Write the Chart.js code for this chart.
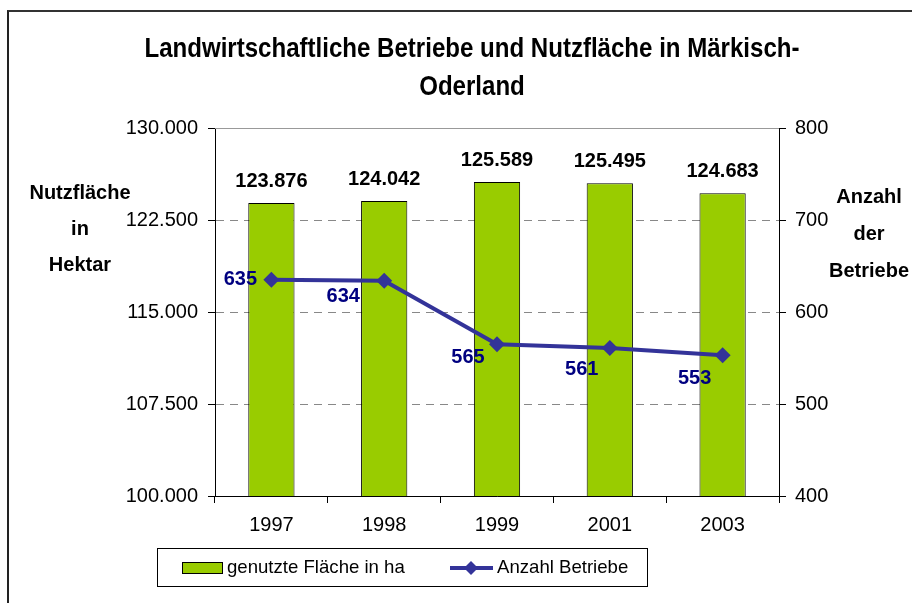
<!DOCTYPE html>
<html>
<head>
<meta charset="utf-8">
<title>Landwirtschaftliche Betriebe und Nutzfläche in Märkisch-Oderland</title>
<script src="https://cdn.jsdelivr.net/npm/chart.js@4.4.1/dist/chart.umd.min.js"></script>
<style>
  html, body { margin: 0; padding: 0; background: #fff; overflow: hidden; }
  #wrap { position: relative; width: 912px; height: 603px; }
  #frame { position: absolute; left: 7px; top: 10px; width: 1000px; height: 1000px;
           border-left: 2px solid #222; border-top: 2px solid #333; }
  #myChart { position: absolute; left: 0; top: 0; }
</style>
</head>
<body>
<div id="wrap">
  <div id="frame"></div>
  <canvas id="myChart" width="912" height="603"></canvas>
</div>
<script>
// data
var years = ['1997', '1998', '1999', '2001', '2003'];
var flaeche = [123876, 124042, 125589, 125495, 124683];
var betriebe = [635, 634, 565, 561, 553];
var leftTicks = [100000, 107500, 115000, 122500, 130000];
var rightTicks = [400, 500, 600, 700, 800];

var titleLines = ['Landwirtschaftliche Betriebe und Nutzfläche in Märkisch-', 'Oderland'];
var leftTitle = ['Nutzfläche', 'in', 'Hektar'];
var rightTitle = ['Anzahl', 'der', 'Betriebe'];

var FONT = '"Liberation Sans", Arial, sans-serif';
var GREEN = '#99CC00';
var BLUE = '#333399';
var NAVY = '#000080';

// where the number labels of the line sit relative to their point (dx, dy)
var lineLabelShift = [[-31, 0], [-41, 16], [-29, 13], [-28, 22], [-28, 23]];

function fmt(v) {
  return String(v).replace(/\B(?=(\d{3})+(?!\d))/g, '.');
}

var decor = {
  id: 'decor',
  afterDraw: function(chart) {
    var ctx = chart.ctx;
    var area = chart.chartArea;
    ctx.save();

    // top gridline is solid
    ctx.strokeStyle = '#999';
    ctx.lineWidth = 1;
    ctx.beginPath();
    ctx.moveTo(area.left, area.top + 0.5);
    ctx.lineTo(area.right, area.top + 0.5);
    ctx.stroke();

    // title - narrow bold, squeezed to the width of the original
    ctx.fillStyle = '#000';
    ctx.textAlign = 'center';
    ctx.textBaseline = 'middle';
    ctx.font = 'bold 28px ' + FONT;
    var sx = 655 / ctx.measureText(titleLines[0]).width;
    ctx.save();
    ctx.translate(472, 0);
    ctx.scale(sx, 1);
    ctx.fillText(titleLines[0], 0, 49);
    ctx.fillText(titleLines[1], 0, 87);
    ctx.restore();

    // axis titles
    ctx.font = 'bold 20px ' + FONT;
    leftTitle.forEach(function(t, i) { ctx.fillText(t, 80, 193 + i * 36); });
    rightTitle.forEach(function(t, i) { ctx.fillText(t, 869, 197 + i * 37); });

    // bar values
    var bars = chart.getDatasetMeta(0).data;
    bars.forEach(function(el, i) {
      ctx.fillText(fmt(flaeche[i]), el.x, el.y - 22);
    });

    // line values
    var pts = chart.getDatasetMeta(1).data;
    ctx.fillStyle = NAVY;
    pts.forEach(function(el, i) {
      ctx.fillText(String(betriebe[i]), el.x + lineLabelShift[i][0], el.y + lineLabelShift[i][1]);
    });

    // legend box
    ctx.strokeStyle = '#000';
    ctx.lineWidth = 1;
    ctx.strokeRect(157.5, 548.5, 490, 38);
    ctx.fillStyle = GREEN;
    ctx.fillRect(182, 562, 40, 11);
    ctx.strokeRect(182.5, 562.5, 40, 11);
    ctx.fillStyle = '#000';
    ctx.textAlign = 'left';
    ctx.font = '18.6px ' + FONT;
    ctx.fillText(chart.data.datasets[0].label, 227, 568);
    ctx.strokeStyle = BLUE;
    ctx.lineWidth = 4;
    ctx.beginPath();
    ctx.moveTo(450, 568);
    ctx.lineTo(493, 568);
    ctx.stroke();
    ctx.fillStyle = BLUE;
    ctx.beginPath();
    ctx.moveTo(471, 561);
    ctx.lineTo(478, 568);
    ctx.lineTo(471, 575);
    ctx.lineTo(464, 568);
    ctx.closePath();
    ctx.fill();
    ctx.fillStyle = '#000';
    ctx.fillText(chart.data.datasets[1].label, 497, 568);

    ctx.restore();
  }
};

var ctx = document.getElementById('myChart').getContext('2d');
var myChart = new Chart(ctx, {
  data: {
    labels: years,
    datasets: [{
      type: 'bar',
      label: 'genutzte Fläche in ha',
      data: flaeche,
      backgroundColor: GREEN,
      borderColor: '#000',
      borderWidth: 1,
      barPercentage: 0.41,
      categoryPercentage: 1,
      yAxisID: 'y',
      order: 2
    }, {
      type: 'line',
      label: 'Anzahl Betriebe',
      data: betriebe,
      borderColor: BLUE,
      borderWidth: 4,
      pointStyle: 'rectRot',
      pointRadius: 8,
      pointBackgroundColor: BLUE,
      pointBorderColor: BLUE,
      pointBorderWidth: 0,
      tension: 0,
      yAxisID: 'y1',
      order: 1
    }]
  },
  options: {
    responsive: false,
    animation: false,
    layout: { padding: { top: 128, left: 0, right: 0, bottom: 0 } },
    plugins: {
      legend: { display: false },
      title: { display: false },
      tooltip: { enabled: false }
    },
    scales: {
      x: {
        offset: true,
        grid: { offset: true, drawOnChartArea: false, drawTicks: true, tickLength: 7, tickColor: '#000' },
        border: { color: '#000', width: 1 },
        ticks: { color: '#000', font: { family: FONT, size: 20 }, padding: 10, maxRotation: 0 },
        afterFit: function(s) { s.height = 107; }
      },
      y: {
        position: 'left',
        min: leftTicks[0],
        max: leftTicks[leftTicks.length - 1],
        afterBuildTicks: function(s) { s.ticks = leftTicks.map(function(v) { return { value: v }; }); },
        grid: { color: '#888', drawTicks: true, tickLength: 7, tickColor: '#000' },
        border: { color: '#000', width: 1, dash: [8, 6] },
        ticks: { color: '#000', font: { family: FONT, size: 20 }, padding: 10, callback: function(v) { return fmt(v); } },
        afterFit: function(s) { s.width = 215; }
      },
      y1: {
        position: 'right',
        min: rightTicks[0],
        max: rightTicks[rightTicks.length - 1],
        afterBuildTicks: function(s) { s.ticks = rightTicks.map(function(v) { return { value: v }; }); },
        grid: { drawOnChartArea: false, drawTicks: true, tickLength: 7, tickColor: '#000' },
        border: { color: '#000', width: 1 },
        ticks: { color: '#000', font: { family: FONT, size: 20 }, padding: 9 },
        afterFit: function(s) { s.width = 133; }
      }
    }
  },
  plugins: [decor]
});
</script>
</body>
</html>
